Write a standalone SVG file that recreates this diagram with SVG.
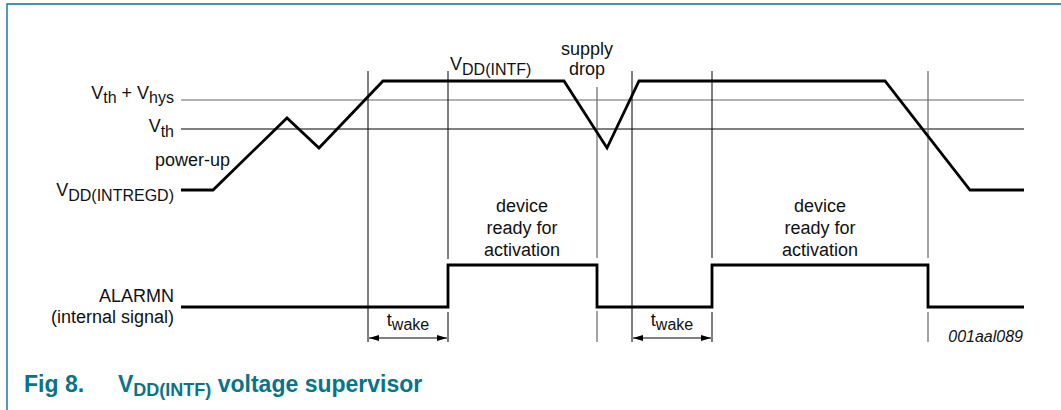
<svg xmlns="http://www.w3.org/2000/svg" width="1061" height="410" viewBox="0 0 1061 410">
<defs>
<style>
text{font-family:"Liberation Sans",Arial,sans-serif;fill:#111}
.lbl{font-size:18px}
.sub{font-size:16px}
.ctr{text-anchor:middle}
.end{text-anchor:end}
.wave{fill:none;stroke:#000;stroke-width:2.8;stroke-linejoin:miter}
.thin{fill:none;stroke:#000;stroke-width:1}
.gray{fill:none;stroke:#666;stroke-width:1.2}
.cap{fill:#0a7388;font-weight:bold}
</style>
<marker id="ah" viewBox="0 0 10 6" refX="10" refY="3" markerWidth="10" markerHeight="6" markerUnits="userSpaceOnUse" orient="auto-start-reverse">
<path d="M0,0 L10,3 L0,6 Z" fill="#000"/>
</marker>
</defs>
<rect width="1061" height="410" fill="#fff"/>
<g id="frame">
<path d="M7,410 V4 H1061" fill="none" stroke="#0a7388" stroke-width="1.4"/>
</g>
<g id="levels">
<line class="gray" x1="181" y1="100" x2="1024" y2="100"/>
<line class="thin" x1="181" y1="129" x2="1024" y2="129"/>
</g>
<g id="connectors">
<line class="thin" x1="368" y1="71" x2="368" y2="342"/>
<line class="thin" x1="448" y1="71" x2="448" y2="259"/>
<line class="thin" x1="448" y1="312" x2="448" y2="342"/>
<line class="gray" x1="597" y1="87" x2="597" y2="258"/>
<line class="gray" x1="597" y1="311" x2="597" y2="342"/>
<line class="thin" x1="632" y1="71" x2="632" y2="342"/>
<line class="thin" x1="712" y1="71" x2="712" y2="258"/>
<line class="thin" x1="712" y1="312" x2="712" y2="342"/>
<line class="gray" x1="928" y1="71" x2="928" y2="258"/>
<line class="gray" x1="928" y1="312" x2="928" y2="342"/>
<line class="thin" x1="369" y1="338" x2="447" y2="338" marker-start="url(#ah)" marker-end="url(#ah)"/>
<line class="thin" x1="633" y1="338" x2="711" y2="338" marker-start="url(#ah)" marker-end="url(#ah)"/>
</g>
<g id="vdd-waveform">
<polyline class="wave" points="181,190 213,190 287,118 319,148 383,81 564,81 607,148 639,81 885,81 970,190 1024,190"/>
</g>
<g id="alarmn-waveform">
<polyline class="wave" points="181,307 448,307 448,265 597,265 597,307 712,307 712,265 928,265 928,307 1024,307"/>
</g>
<g id="labels">
<text class="lbl end" x="174" y="99">V<tspan class="sub" dy="4">th</tspan><tspan dy="-4"> + V</tspan><tspan class="sub" dy="4">hys</tspan></text>
<text class="lbl end" x="174" y="132">V<tspan class="sub" dy="5">th</tspan></text>
<text class="lbl end" x="230" y="166">power-up</text>
<text class="lbl end" x="174" y="196">V<tspan class="sub" dy="5">DD(INTREGD)</tspan></text>
<text class="lbl end" x="174" y="302">ALARMN</text>
<text class="lbl end" x="174" y="323">(internal signal)</text>
<text class="lbl" x="450" y="70">V<tspan class="sub" dy="5">DD(INTF)</tspan></text>
<text class="lbl ctr" x="587" y="55">supply</text>
<text class="lbl ctr" x="587" y="75">drop</text>
<text class="lbl ctr" x="522" y="212">device</text>
<text class="lbl ctr" x="522" y="234">ready for</text>
<text class="lbl ctr" x="522" y="256">activation</text>
<text class="lbl ctr" x="820" y="212">device</text>
<text class="lbl ctr" x="820" y="234">ready for</text>
<text class="lbl ctr" x="820" y="256">activation</text>
<text class="lbl ctr" x="408" y="326">t<tspan class="sub" dy="4">wake</tspan></text>
<text class="lbl ctr" x="672" y="326">t<tspan class="sub" dy="4">wake</tspan></text>
<text x="1023" y="342" style="font-size:16px;font-style:italic;text-anchor:end">001aal089</text>
</g>
<g id="caption">
<text class="cap" x="24" y="392" style="font-size:23px">Fig 8.</text>
<text class="cap" x="118" y="392" style="font-size:23px">V<tspan dy="4" style="font-size:18px">DD(INTF)</tspan><tspan dy="-4"> voltage supervisor</tspan></text>
</g>
</svg>
